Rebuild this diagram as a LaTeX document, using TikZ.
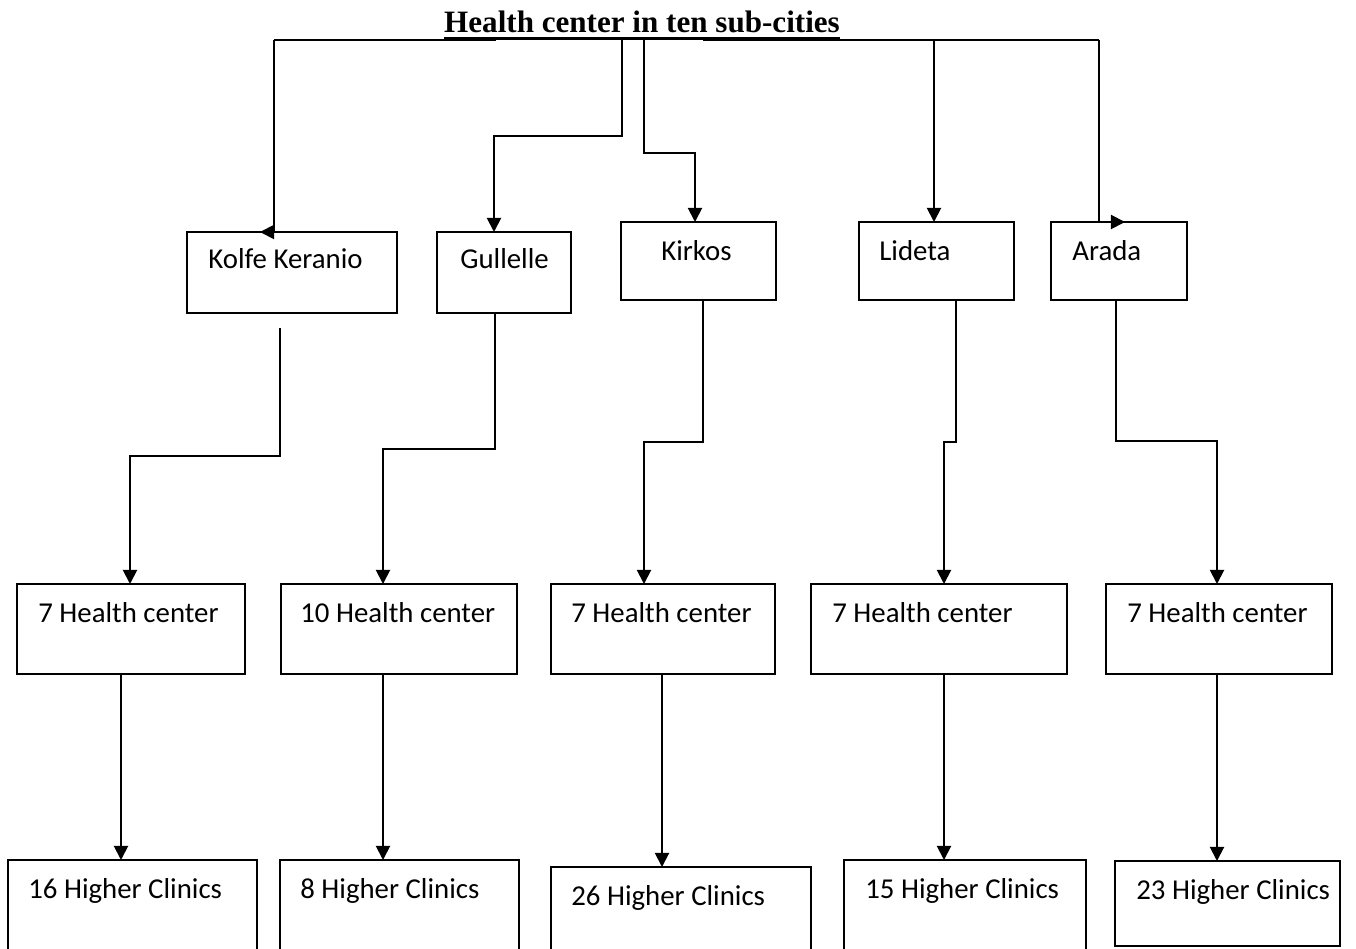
\documentclass[tikz,border=0pt]{standalone}
\usepackage{fontspec}
\setmainfont{Carlito}
\newfontfamily\titlefont{Liberation Serif}
\usepackage{tikz}
\usetikzlibrary{positioning,calc,arrows.meta}

\tikzset{
  box/.style={draw, line width=1.1pt, inner sep=0pt, outer sep=0pt, anchor=north west},
  txt/.style={inner sep=0pt, anchor=base west, font=\fontsize{16.4}{19}\selectfont},
  title/.style={inner sep=0pt, anchor=base, font=\titlefont\bfseries\fontsize{17.7}{20}\selectfont},
  link/.style={line width=1.1pt},
  arr/.style={line width=1.1pt, -{Triangle[length=8pt,width=8pt]}}
}

\begin{document}
\begin{tikzpicture}[x=0.02cm, y=-0.02cm]
    \useasboundingbox (0,0) rectangle (1356,949);
    \clip (0,0) rectangle (1356,949);
    % Title
    \node[title] (title) at (642,33) {Health center in ten sub-cities};
    \draw[line width=1.5pt] ($(title.base west)+(0,5.5)$) -- ($(title.base east)+(0,5.5)$);
    \coordinate (bar-w) at (274,40);
    \coordinate (bar-gw) at (496,40);
    \coordinate (bar-ge) at (703,40);
    \coordinate (bar-e) at (1099,40);
    \draw[link] (bar-w) -- (bar-gw);
    \draw[link] (bar-ge) -- (bar-e);
    % Sub-cities
    \node[box, minimum width=4.2cm, minimum height=1.62cm] (kolfe) at (187,232) {};
    \node[box, minimum width=2.68cm, minimum height=1.62cm] (gullelle) at (437,232) {};
    \node[box, minimum width=3.1cm, minimum height=1.56cm] (kirkos) at (621,222) {};
    \node[box, minimum width=3.1cm, minimum height=1.56cm] (lideta) at (859,222) {};
    \node[box, minimum width=2.72cm, minimum height=1.56cm] (arada) at (1051,222) {};
    \node[txt] (kolfe-t) at ($(kolfe.north west)+(21,37)$) {Kolfe Keranio};
    \node[txt] (gullelle-t) at ($(gullelle.north west)+(23,37)$) {Gullelle};
    \node[txt] (kirkos-t) at ($(kirkos.north west)+(40,39)$) {Kirkos};
    \node[txt] (lideta-t) at ($(lideta.north west)+(20,39)$) {Lideta};
    \node[txt] (arada-t) at ($(arada.north west)+(21,39)$) {Arada};
    % Health centers
    \node[box, minimum width=4.56cm, minimum height=1.8cm] (hc1) at (17,584) {};
    \node[box, minimum width=4.72cm, minimum height=1.8cm] (hc2) at (281,584) {};
    \node[box, minimum width=4.48cm, minimum height=1.8cm] (hc3) at (551,584) {};
    \node[box, minimum width=5.12cm, minimum height=1.8cm] (hc4) at (811,584) {};
    \node[box, minimum width=4.52cm, minimum height=1.8cm] (hc5) at (1106,584) {};
    \node[txt] (hc1-t) at ($(hc1.north west)+(21,38)$) {7 Health center};
    \node[txt] (hc2-t) at ($(hc2.north west)+(19,38)$) {10 Health center};
    \node[txt] (hc3-t) at ($(hc3.north west)+(20,38)$) {7 Health center};
    \node[txt] (hc4-t) at ($(hc4.north west)+(21,38)$) {7 Health center};
    \node[txt] (hc5-t) at ($(hc5.north west)+(21,38)$) {7 Health center};
    % Higher clinics
    \node[box, minimum width=4.98cm, minimum height=2.4cm] (hcl1) at (8,860) {};
    \node[box, minimum width=4.78cm, minimum height=2.4cm] (hcl2) at (280,860) {};
    \node[box, minimum width=5.2cm, minimum height=2.4cm] (hcl3) at (551,867) {};
    \node[box, minimum width=4.84cm, minimum height=2.4cm] (hcl4) at (844,860) {};
    \node[box, minimum width=4.5cm, minimum height=1.7cm] (hcl5) at (1115,861) {};
    \node[txt] (hcl1-t) at ($(hcl1.north west)+(20,38)$) {16 Higher Clinics};
    \node[txt] (hcl2-t) at ($(hcl2.north west)+(20,38)$) {8 Higher Clinics};
    \node[txt] (hcl3-t) at ($(hcl3.north west)+(20,38)$) {26 Higher Clinics};
    \node[txt] (hcl4-t) at ($(hcl4.north west)+(21,38)$) {15 Higher Clinics};
    \node[txt] (hcl5-t) at ($(hcl5.north west)+(21,38)$) {23 Higher Clinics};
    % Title to sub-cities
    \draw[arr] (bar-w) |- ($(kolfe.north west)+(73,0)$);
    \draw[arr] (622,40) -- (622,136) -- (494,136) -- ($(gullelle.north west)+(57,0)$);
    \draw[arr] (644,40) -- (644,153) -- (695,153) -- ($(kirkos.north west)+(74,0)$);
    \draw[arr] (934,40) -- ($(lideta.north west)+(75,0)$);
    \draw[arr] (bar-e) |- ($(arada.north west)+(74,0)$);
    % Sub-cities to health centers
    \draw[arr] ($(kolfe.south west)+(93,15)$) |- (130,456) -- ($(hc1.north west)+(113,0)$);
    \draw[arr] ($(gullelle.south west)+(58,0)$) |- (383,449) -- ($(hc2.north west)+(102,0)$);
    \draw[arr] ($(kirkos.south west)+(82,0)$) |- (644,442) -- ($(hc3.north west)+(93,0)$);
    \draw[arr] ($(lideta.south west)+(97,0)$) |- (944,442) -- ($(hc4.north west)+(133,0)$);
    \draw[arr] ($(arada.south west)+(65,0)$) |- (1217,441) -- ($(hc5.north west)+(111,0)$);
    % Health centers to higher clinics
    \draw[arr] ($(hc1.south west)+(104,0)$) -- ($(hcl1.north west)+(113,0)$);
    \draw[arr] ($(hc2.south west)+(102,0)$) -- ($(hcl2.north west)+(103,0)$);
    \draw[arr] ($(hc3.south west)+(111,0)$) -- ($(hcl3.north west)+(111,0)$);
    \draw[arr] ($(hc4.south west)+(133,0)$) -- ($(hcl4.north west)+(100,0)$);
    \draw[arr] ($(hc5.south west)+(111,0)$) -- ($(hcl5.north west)+(102,0)$);
\end{tikzpicture}
\end{document}
